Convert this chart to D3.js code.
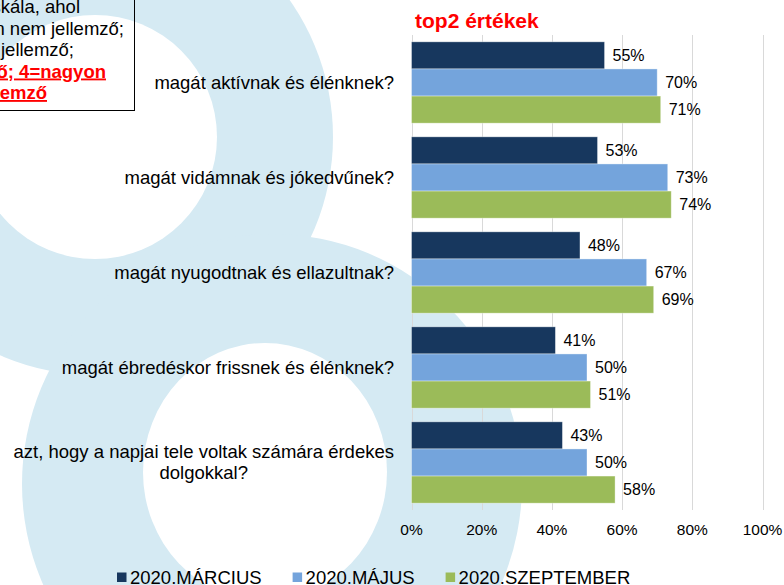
<!DOCTYPE html>
<html>
<head>
<meta charset="utf-8">
<script src="https://cdn.jsdelivr.net/npm/d3@7"></script>
<style>
  html, body { margin: 0; padding: 0; background: #ffffff; }
  svg { display: block; font-family: "Liberation Sans", Arial, sans-serif; }
</style>
</head>
<body>
<svg id="chart" width="784" height="585"></svg>
<script>
// ---- data ----
const categories = [
  "magát aktívnak és élénknek?",
  "magát vidámnak és jókedvűnek?",
  "magát nyugodtnak és ellazultnak?",
  "magát ébredéskor frissnek és élénknek?",
  "azt, hogy a napjai tele voltak számára érdekes dolgokkal?"
];
const seriesNames = ["2020.MÁRCIUS", "2020.MÁJUS", "2020.SZEPTEMBER"];
const marcius    = [55, 53, 48, 41, 43];
const majus      = [70, 73, 67, 50, 50];
const szeptember = [71, 74, 69, 51, 58];
const xTicks = [0, 20, 40, 60, 80, 100];
const tickLabels = ["0%", "20%", "40%", "60%", "80%", "100%"];
const titleText = "top2 értékek";
const noteLines = ["skála, ahol", "n nem jellemző;", "jellemző;", "ő; 4=nagyon", "emző"];

const seriesValues = [marcius, majus, szeptember];
const colors = ["#17375e", "#74a4dc", "#9bbb59"];

const svg = d3.select("#chart");

// ---- decorative background "8" ----
const bg = svg.append("g");
const blue = "#d5eaf3";
bg.append("circle").attr("cx", 95).attr("cy", 137).attr("r", 238).attr("fill", blue);
bg.append("circle").attr("cx", 272).attr("cy", 484).attr("r", 250).attr("fill", blue);
bg.append("circle").attr("cx", 95).attr("cy", 137).attr("r", 122).attr("fill", "#ffffff");
bg.append("ellipse").attr("cx", 265).attr("cy", 472).attr("rx", 122).attr("ry", 129).attr("fill", "#ffffff");

// ---- note box (partially off-canvas) ----
const note = svg.append("g");
note.append("rect")
  .attr("x", -20).attr("y", -20)
  .attr("width", 154.5).attr("height", 130.5)
  .attr("fill", "none").attr("stroke", "#000").attr("stroke-width", 1);
const noteEnds = [80, 124, 74, 106, 47];
const noteBase = [13, 34.5, 56, 77.5, 99];
noteLines.forEach((t, i) => {
  const bold = i >= 3;
  note.append("text")
    .attr("x", noteEnds[i]).attr("y", noteBase[i])
    .attr("text-anchor", "end")
    .attr("font-size", "18.5px")
    .attr("font-weight", bold ? "bold" : "normal")
    .attr("fill", bold ? "#ff0000" : "#000")
    .style("text-decoration", bold ? "underline" : "none")
    .text(t);
});

// ---- scales ----
const x = d3.scaleLinear().domain([0, 100]).range([411.5, 762.5]);
const y = d3.scaleBand().domain(categories).range([35, 510]).paddingInner(0.144).paddingOuter(0.072);
const ys = d3.scaleBand().domain(seriesNames).range([0, y.bandwidth()]);

// ---- gridlines ----
svg.append("g").selectAll("line").data(xTicks).join("line")
  .attr("x1", d => Math.round(x(d)) + 0.5).attr("x2", d => Math.round(x(d)) + 0.5)
  .attr("y1", 35).attr("y2", 510)
  .attr("stroke", "#d9d9d9").attr("stroke-width", 1);

// ---- title ----
svg.append("text")
  .attr("x", 415).attr("y", 28)
  .attr("font-size", "21px").attr("font-weight", "bold").attr("fill", "#ff0000")
  .text(titleText);

// ---- bars ----
const gBars = svg.append("g");
seriesNames.forEach((s, si) => {
  const vals = seriesValues[si];
  gBars.append("g").selectAll("rect").data(categories).join("rect")
    .attr("x", x(0))
    .attr("y", c => y(c) + ys(s))
    .attr("width", (c, i) => x(vals[i]) - x(0))
    .attr("height", ys.bandwidth())
    .attr("fill", colors[si])
    .attr("stroke", "rgba(255,255,255,0.45)").attr("stroke-width", 0.8);
  gBars.append("g").selectAll("text").data(categories).join("text")
    .attr("x", (c, i) => x(vals[i]) + 8)
    .attr("y", c => y(c) + ys(s) + ys.bandwidth() / 2)
    .attr("dy", "0.35em")
    .attr("font-size", "16px").attr("fill", "#000")
    .text((c, i) => vals[i] + "%");
});

// ---- x axis labels ----
svg.append("g").selectAll("text").data(xTicks).join("text")
  .attr("x", d => x(d)).attr("y", 535)
  .attr("text-anchor", "middle")
  .attr("font-size", "15.5px").attr("fill", "#000")
  .text((d, i) => tickLabels[i]);

// ---- category labels (wrapped) ----
const gLab = svg.append("g");
const labelRight = 394, maxW = 388, lineH = 21;
const measure = svg.append("text").attr("font-size", "18.5px").attr("visibility", "hidden");
function w(t) { measure.text(t); return measure.node().getComputedTextLength(); }
categories.forEach(c => {
  const words = c.split(" ");
  const lines = [];
  let cur = "";
  words.forEach(wd => {
    const test = cur ? cur + " " + wd : wd;
    if (w(test) > maxW && cur) { lines.push(cur); cur = wd; } else cur = test;
  });
  lines.push(cur);
  const widest = d3.max(lines, l => w(l));
  const cy = y(c) + y.bandwidth() / 2;
  const t = gLab.append("text").attr("font-size", "18.5px").attr("fill", "#000");
  if (lines.length === 1) {
    t.attr("text-anchor", "end").attr("x", labelRight).attr("y", cy).attr("dy", "0.35em").text(lines[0]);
  } else {
    const cx = labelRight - widest / 2;
    t.attr("text-anchor", "middle");
    lines.forEach((l, i) => {
      t.append("tspan").attr("x", cx)
        .attr("y", cy + (i - (lines.length - 1) / 2) * lineH)
        .attr("dy", "0.35em").text(l);
    });
  }
});
measure.remove();

// ---- legend ----
const gLeg = svg.append("g");
let lx = 117;
seriesNames.forEach((s, i) => {
  gLeg.append("rect").attr("x", lx).attr("y", 572.5).attr("width", 9.5).attr("height", 9.5).attr("fill", colors[i]);
  const t = gLeg.append("text").attr("x", lx + 13).attr("y", 583.5)
    .attr("font-size", "18.5px").attr("fill", "#000").text(s);
  lx = lx + 13 + t.node().getComputedTextLength() + 31;
});
</script>
</body>
</html>
